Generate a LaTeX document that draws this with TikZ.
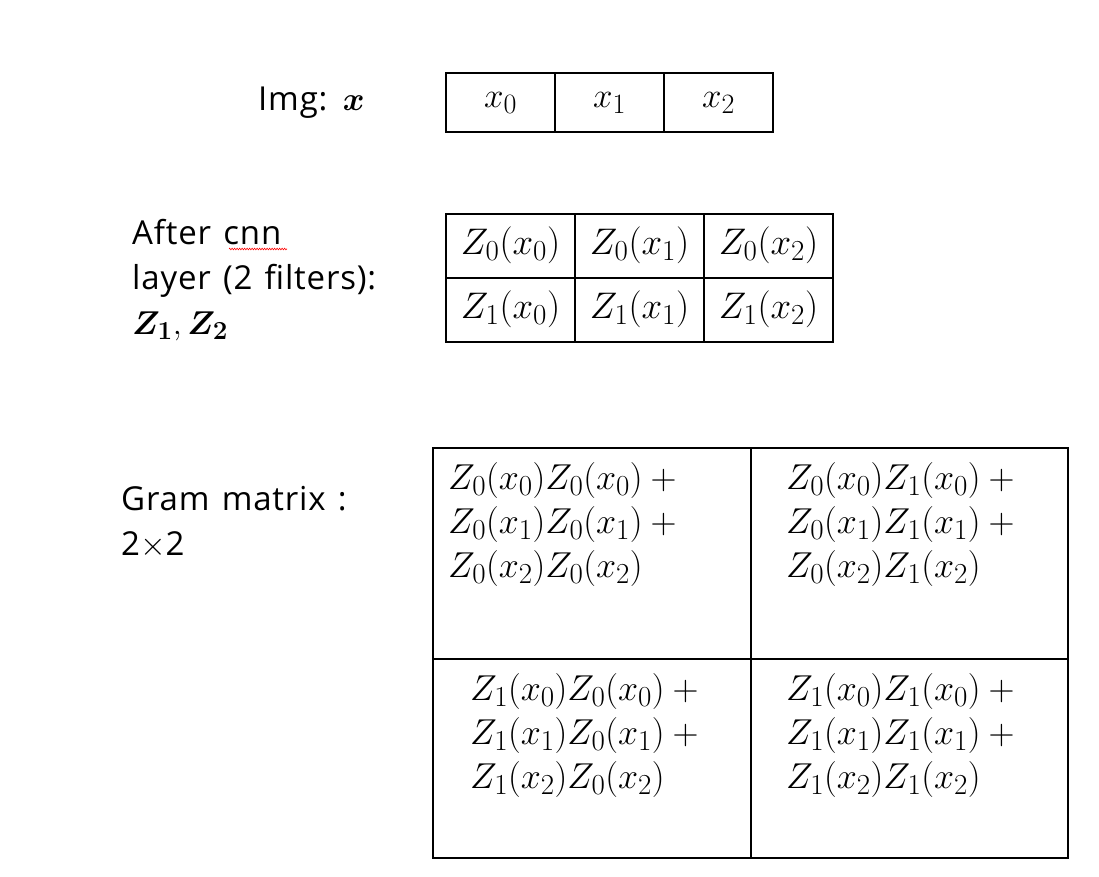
\RequirePackage{fix-cm}
\documentclass[tikz,border=0pt]{standalone}
\usepackage{amsmath,bm}
\usepackage[no-math]{fontspec}
\setmainfont{Open Sans}[LetterSpace=2.5,WordSpace=1.3]
\DeclareMathSizes{36}{36}{29}{22}
\DeclareMathSizes{37}{37}{29}{23}
\DeclareMathSizes{35}{35}{28}{22}
\DeclareMathSizes{33}{33}{26}{20}
\usetikzlibrary{decorations.pathmorphing}
\begin{document}
\begin{tikzpicture}[x=1pt,y=-1pt,
  cell/.style={draw, line width=2pt, inner sep=0pt, outer sep=0pt, font=\fontsize{37}{40}\selectfont},
  xcell/.style={cell, font=\fontsize{35}{40}\selectfont},
  gcell/.style={draw, line width=2pt, inner sep=0pt, outer sep=0pt},
  lab/.style={anchor=west, align=left, inner sep=0pt, font=\fontsize{33}{45}\selectfont},
  gtxt/.style={anchor=north west, align=left, inner sep=0pt, font=\fontsize{36}{44}\selectfont}]
\useasboundingbox (0,0) rectangle (1099,876);
% Img row
\node[lab] (imglab) at (258,103) {Img: $\bm{x}$};
\node[xcell, minimum width=109, minimum height=59] (x0) at (500.5,102.5) {$x_0$};
\node[xcell, minimum width=109, minimum height=59, anchor=west] (x1) at (x0.east) {$x_1$};
\node[xcell, minimum width=109, minimum height=59, anchor=west] (x2) at (x1.east) {$x_2$};
% CNN
\node[lab] (cnnlab) at (132,280) {After cnn\\layer (2 filters):\\$\bm{Z}_{\mathbf{1}},\bm{Z}_{\mathbf{2}}$};
\draw[red, line width=0.6pt, decorate, decoration={zigzag, amplitude=0.8pt, segment length=2.5pt}] (229,249) -- (287,249);
\foreach \r/\ry in {0/245.5,1/309.5}{
  \node[cell, minimum width=129, minimum height=64] (z\r0) at (510.5,\ry) {$Z_{\r}(x_0)$};
  \node[cell, minimum width=129, minimum height=64, anchor=west] (z\r1) at (z\r0.east) {$Z_{\r}(x_1)$};
  \node[cell, minimum width=129, minimum height=64, anchor=west] (z\r2) at (z\r1.east) {$Z_{\r}(x_2)$};
}
% Gram
\node[lab] (gramlab) at (121,522) {Gram matrix :\\2$\times$2};
\node[gcell, minimum width=318, minimum height=211] (g00) at (592,553.5) {};
\node[gcell, minimum width=317, minimum height=211, anchor=west] (g01) at (g00.east) {};
\node[gcell, minimum width=318, minimum height=199, anchor=north] (g10) at (g00.south) {};
\node[gcell, minimum width=317, minimum height=199, anchor=west] (g11) at (g10.east) {};
\node[gtxt] (t00) at (448,462) {$Z_0(x_0)Z_0(x_0)+{}$\\$Z_0(x_1)Z_0(x_1)+{}$\\$Z_0(x_2)Z_0(x_2)$};
\node[gtxt] (t01) at (786,462) {$Z_0(x_0)Z_1(x_0)+{}$\\$Z_0(x_1)Z_1(x_1)+{}$\\$Z_0(x_2)Z_1(x_2)$};
\node[gtxt] (t10) at (470,673) {$Z_1(x_0)Z_0(x_0)+{}$\\$Z_1(x_1)Z_0(x_1)+{}$\\$Z_1(x_2)Z_0(x_2)$};
\node[gtxt] (t11) at (786,673) {$Z_1(x_0)Z_1(x_0)+{}$\\$Z_1(x_1)Z_1(x_1)+{}$\\$Z_1(x_2)Z_1(x_2)$};
\end{tikzpicture}
\end{document}
